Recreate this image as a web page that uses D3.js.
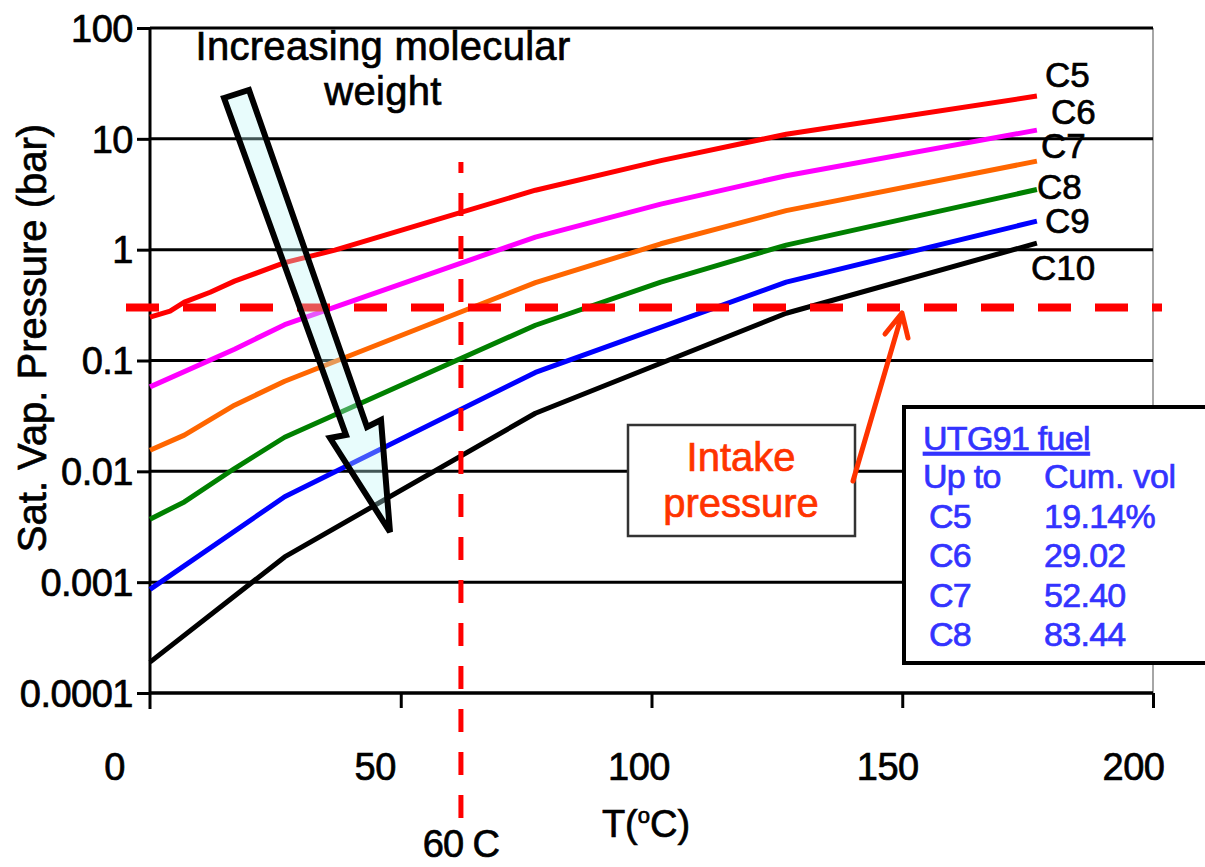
<!DOCTYPE html>
<html>
<head>
<meta charset="utf-8">
<script src="https://cdn.jsdelivr.net/npm/d3@7"></script>
<style>
  body { margin: 0; background: #fff; }
  svg text { font-family: "Liberation Sans", Arial, sans-serif; }
</style>
</head>
<body>
<script>
// temperatures in degC (data sampled at kelvin steps), pressures in bar
const tempsC5 = [0, 4, 6.85, 12, 16.85, 26.85, 36.85, 46.85, 56.85, 76.85, 101.85, 126.85, 176.85];
const c5 = [0.246, 0.279, 0.336, 0.413, 0.52, 0.763, 0.99, 1.35, 1.85, 3.44, 6.36, 11.0, 24.3];
const tempsC6 = [0, 16.85, 26.85, 76.85, 101.85, 126.85, 176.85];
const c6 = [0.0578, 0.1265, 0.2105, 1.297, 2.574, 4.65, 11.98];
const tempsC7C8 = [0, 6.85, 16.85, 26.85, 76.85, 101.85, 126.85, 176.85];
const c7 = [0.0155, 0.0212, 0.0395, 0.065, 0.504, 1.13, 2.25, 6.29];
const c8 = [0.0037, 0.0053, 0.0106, 0.0203, 0.208, 0.509, 1.10, 3.49];
const tempsC9C10 = [0, 26.85, 76.85, 126.85, 176.85];
const c9 = [0.00086, 0.0059, 0.078, 0.51, 1.81];
const c10 = [0.00019, 0.00169, 0.0334, 0.267, 1.145];

const seriesNames = ["C5", "C6", "C7", "C8", "C9", "C10"];
const seriesColors = ["#ff0000", "#ff00ff", "#ff6600", "#008000", "#0000ff", "#000000"];

const xTicks = [0, 50, 100, 150, 200];
const yTicks = [0.0001, 0.001, 0.01, 0.1, 1, 10, 100];
const yTickLabels = ["0.0001", "0.001", "0.01", "0.1", "1", "10", "100"];

const intakePressure = 0.3;   // bar
const intakeTemp = 62;        // position of the "60 C" marker

const fuelRows = ["C5", "C6", "C7", "C8"];
const fuelCumVol = ["19.14%", "29.02", "52.40", "83.44"];

const series = [
  { t: tempsC5, p: c5 },
  { t: tempsC6, p: c6 },
  { t: tempsC7C8, p: c7 },
  { t: tempsC7C8, p: c8 },
  { t: tempsC9C10, p: c9 },
  { t: tempsC9C10, p: c10 }
].map((s, i) => ({ name: seriesNames[i], color: seriesColors[i], pts: s.t.map((t, j) => [t, s.p[j]]) }));

const W = 1205, H = 867;
const plotLeft = 150, plotRight = 1153, plotTop = 28, plotBottom = 693;

const x = d3.scaleLinear().domain([0, 200]).range([plotLeft, plotRight]);
const y = d3.scaleLog().domain([0.0001, 100]).range([plotBottom, plotTop]);

const svg = d3.select("body").append("svg")
    .attr("width", W)
    .attr("height", H);

const font = 38;

// right border (thin grey)
svg.append("line")
    .attr("x1", plotRight).attr("x2", plotRight)
    .attr("y1", plotTop).attr("y2", plotBottom)
    .attr("stroke", "#888").attr("stroke-width", 1.5);

// horizontal gridlines
svg.append("g")
    .selectAll("line")
    .data(yTicks)
    .enter().append("line")
    .attr("x1", plotLeft).attr("x2", plotRight)
    .attr("y1", d => y(d)).attr("y2", d => y(d))
    .attr("stroke", "#000").attr("stroke-width", 3);

// y axis
const yAxis = svg.append("g")
    .attr("transform", "translate(" + plotLeft + ",0)")
    .call(d3.axisLeft(y).tickValues(yTicks).tickFormat((d, i) => yTickLabels[i]).tickSize(13).tickPadding(4));
yAxis.select(".domain").attr("d", "M0," + plotTop + "V" + (plotBottom + 16)).attr("stroke", "#000").attr("stroke-width", 3);
yAxis.selectAll(".tick line").attr("stroke", "#000").attr("stroke-width", 3);
yAxis.selectAll(".tick text")
    .attr("font-size", font).attr("fill", "#000").attr("letter-spacing", -0.5)
    .attr("dy", "0.35em");

// x axis (labels in the original sit a little left of their ticks)
const xLabelNudge = [-36, -26, -13, -15, -20];
const xAxis = svg.append("g")
    .attr("transform", "translate(0," + plotBottom + ")")
    .call(d3.axisBottom(x).tickValues(xTicks).tickFormat(d3.format("d")).tickSize(15).tickPadding(0));
xAxis.select(".domain").attr("d", "M" + plotLeft + ",0H" + plotRight).attr("stroke", "#000").attr("stroke-width", 3);
xAxis.selectAll(".tick line").attr("stroke", "#000").attr("stroke-width", 3)
    .filter(d => d === 0).remove();
xAxis.selectAll(".tick text")
    .attr("font-size", font).attr("fill", "#000").attr("letter-spacing", -0.5)
    .attr("x", (d, i) => xLabelNudge[i]).attr("y", 87).attr("dy", 0);

// axis titles
svg.append("text")
    .attr("transform", "translate(46,338) rotate(-90)")
    .attr("text-anchor", "middle")
    .attr("font-size", 40)
    .attr("fill", "#000")
    .text("Sat. Vap. Pressure (bar)");

const xt = svg.append("text")
    .attr("x", 646).attr("y", 837)
    .attr("text-anchor", "middle")
    .attr("fill", "#000")
    .attr("font-size", font);
xt.append("tspan").text("T(");
xt.append("tspan").attr("font-size", 22).attr("dy", -14).text("o");
xt.append("tspan").attr("dy", 14).text("C)");

// curves
const line = d3.line().x(d => x(d[0])).y(d => y(d[1]));
svg.append("g")
    .selectAll("path")
    .data(series)
    .enter().append("path")
    .attr("d", d => line(d.pts))
    .attr("fill", "none")
    .attr("stroke", d => d.color)
    .attr("stroke-width", 5)
    .attr("stroke-linejoin", "round");

// curve labels
const labelOffsets = [[8, -21], [14, -18], [4, -15], [0, -3], [8, 0], [-6, 25]];
svg.append("g")
    .selectAll("text")
    .data(series)
    .enter().append("text")
    .attr("x", (d, i) => x(d.pts[d.pts.length - 1][0]) + labelOffsets[i][0])
    .attr("y", (d, i) => y(d.pts[d.pts.length - 1][1]) + labelOffsets[i][1])
    .attr("dy", "0.35em")
    .attr("font-size", 35)
    .attr("fill", "#000")
    .text(d => d.name);

// intake pressure line
svg.append("line")
    .attr("x1", plotLeft - 24).attr("x2", plotRight + 9)
    .attr("y1", y(intakePressure)).attr("y2", y(intakePressure))
    .attr("stroke", "#ff0000").attr("stroke-width", 8)
    .attr("stroke-dasharray", "33,24");

// 60 C marker line
svg.append("line")
    .attr("x1", x(intakeTemp)).attr("x2", x(intakeTemp))
    .attr("y1", 162).attr("y2", 820)
    .attr("stroke", "#ff0000").attr("stroke-width", 5)
    .attr("stroke-dasharray", "23,20").attr("stroke-dashoffset", 12);

svg.append("text")
    .attr("x", x(intakeTemp)).attr("y", 857)
    .attr("text-anchor", "middle")
    .attr("font-size", font).attr("letter-spacing", -1)
    .attr("fill", "#000")
    .text("60 C");

// big arrow: increasing molecular weight
const bigArrow = [[224, 98], [249, 90], [367, 427], [381, 420], [390, 532], [330, 438], [346, 435]];
svg.append("path")
    .attr("d", "M" + bigArrow.join("L") + "Z")
    .attr("fill", "rgb(189,247,247)").attr("fill-opacity", 0.35)
    .attr("stroke", "#000").attr("stroke-width", 6)
    .attr("stroke-linejoin", "miter");

svg.append("text")
    .attr("x", 383).attr("y", 60)
    .attr("text-anchor", "middle")
    .attr("font-size", 40).attr("letter-spacing", 0.3)
    .attr("fill", "#000")
    .text("Increasing molecular");
svg.append("text")
    .attr("x", 383).attr("y", 105)
    .attr("text-anchor", "middle")
    .attr("font-size", 40).attr("letter-spacing", 0.3)
    .attr("fill", "#000")
    .text("weight");

// intake pressure callout
svg.append("rect")
    .attr("x", 628).attr("y", 425)
    .attr("width", 227).attr("height", 111)
    .attr("fill", "#fff").attr("stroke", "#333").attr("stroke-width", 2.5);
svg.append("text")
    .attr("x", 741).attr("y", 471)
    .attr("text-anchor", "middle")
    .attr("font-size", 40).attr("fill", "#ff3300")
    .text("Intake");
svg.append("text")
    .attr("x", 741).attr("y", 517)
    .attr("text-anchor", "middle")
    .attr("font-size", 40).attr("fill", "#ff3300")
    .text("pressure");
svg.append("path")
    .attr("d", "M853,481L902,314M885,334L902,313L908,338")
    .attr("fill", "none")
    .attr("stroke", "#ff3300").attr("stroke-width", 5)
    .attr("stroke-linecap", "round").attr("stroke-linejoin", "round");

// fuel table
svg.append("rect")
    .attr("x", 904).attr("y", 407)
    .attr("width", 320).attr("height", 256)
    .attr("fill", "#fff").attr("stroke", "#000").attr("stroke-width", 4);

const blue = "#3333ff";
svg.append("text")
    .attr("x", 923).attr("y", 450)
    .attr("font-size", 34).attr("fill", blue).attr("letter-spacing", -0.7)
    .attr("text-decoration", "underline")
    .text("UTG91 fuel");
svg.append("text")
    .attr("x", 923).attr("y", 488)
    .attr("font-size", 34).attr("fill", blue).attr("letter-spacing", -0.7)
    .text("Up to");
svg.append("text")
    .attr("x", 1044).attr("y", 488)
    .attr("font-size", 34).attr("fill", blue).attr("letter-spacing", -0.3)
    .text("Cum. vol");

const table = svg.append("g");
table.selectAll("text.row")
    .data(fuelRows)
    .enter().append("text")
    .attr("class", "row")
    .attr("x", 929)
    .attr("y", (d, i) => 528 + i * 39.3)
    .attr("font-size", 34).attr("fill", blue).attr("letter-spacing", -0.7)
    .text(d => d);
table.selectAll("text.vol")
    .data(fuelCumVol)
    .enter().append("text")
    .attr("class", "vol")
    .attr("x", 1044)
    .attr("y", (d, i) => 528 + i * 39.3)
    .attr("font-size", 34).attr("fill", blue).attr("letter-spacing", -0.7)
    .text(d => d);

// the original lettering is a bit heavier than plain Liberation Sans
svg.selectAll("text").each(function () {
  const t = d3.select(this);
  t.attr("stroke", t.attr("fill")).attr("stroke-width", 0.7);
});
</script>
</body>
</html>
